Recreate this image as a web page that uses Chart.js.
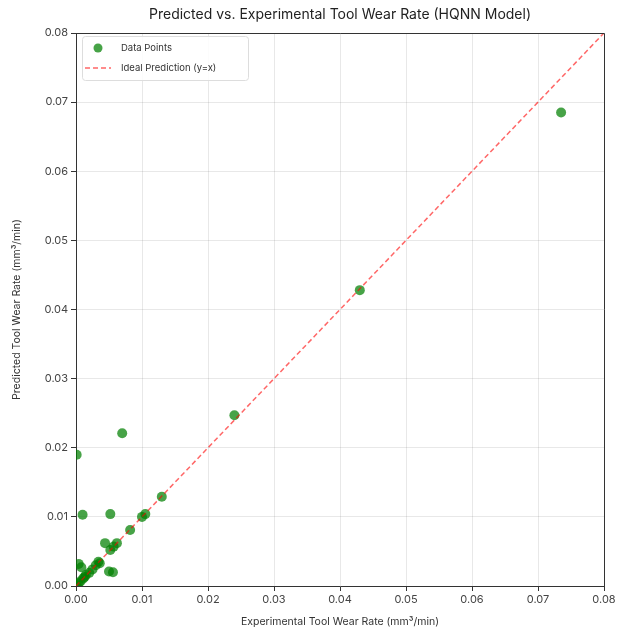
<!DOCTYPE html>
<html>
<head>
<meta charset="utf-8">
<script src="https://cdn.jsdelivr.net/npm/chart.js@4"></script>
<style>
html,body{margin:0;padding:0;background:#fff;}
#wrap{width:619px;height:634px;}
</style>
</head>
<body>
<div id="wrap"><canvas id="c" width="619" height="634"></canvas></div>
<script>
const titleText = "Predicted vs. Experimental Tool Wear Rate (HQNN Model)";
const xTitle = "Experimental Tool Wear Rate (mm\u00b3/min)";
const yTitle = "Predicted Tool Wear Rate (mm\u00b3/min)";
const experimental = [0.0735, 0.043, 0.024, 0.007, 0.0001, 0.013, 0.0105, 0.0100, 0.0010, 0.0052, 0.0082, 0.0044, 0.0057, 0.0052, 0.0062, 0.0050, 0.0056, 0.0004, 0.0008, 0.0034, 0.0036, 0.0025, 0.0020, 0.0015, 0.0011, 0.0007, 0.0004, 0.0001, 0.0030, 0.0013];
const predicted    = [0.0685, 0.0428, 0.0247, 0.0221, 0.0190, 0.0129, 0.0104, 0.0100, 0.0103, 0.0104, 0.0081, 0.0062, 0.0057, 0.0052, 0.0062, 0.0021, 0.0020, 0.0032, 0.0027, 0.0035, 0.0033, 0.0024, 0.0019, 0.0016, 0.0011, 0.0007, 0.0004, 0.0001, 0.0030, 0.0013];
const idealLine = [0, 0.08];
const tickValues = [0, 0.01, 0.02, 0.03, 0.04, 0.05, 0.06, 0.07, 0.08];

const FONT = "Inter, 'DejaVu Sans', sans-serif";
const pointColor = 'rgba(0,128,0,0.72)';
const lineColor = 'rgba(255,0,0,0.6)';

const scatterData = experimental.map((x, i) => ({x: x, y: predicted[i]}));
const lineData = idealLine.map(v => ({x: v, y: v}));

const extras = {
  id: 'extras',
  afterDraw(chart) {
    const {ctx, chartArea: a} = chart;
    ctx.save();
    // top & right spines
    ctx.strokeStyle = '#333';
    ctx.lineWidth = 1;
    ctx.beginPath();
    ctx.moveTo(a.left, a.top + 0.5);
    ctx.lineTo(a.right + 0.5, a.top + 0.5);
    ctx.lineTo(a.right + 0.5, a.bottom);
    ctx.stroke();
    // title
    ctx.fillStyle = '#222';
    ctx.font = "14px " + FONT;
    ctx.textAlign = 'center';
    ctx.textBaseline = 'middle';
    ctx.fillText(titleText, (a.left + a.right) / 2, 15);
    // legend
    const lx = a.left + 6, ly = a.top + 3, lw = 166, lh = 44;
    ctx.fillStyle = 'rgba(255,255,255,0.85)';
    ctx.strokeStyle = '#dddddd';
    ctx.lineWidth = 1;
    ctx.beginPath();
    ctx.roundRect(lx + 0.5, ly + 0.5, lw, lh, 3);
    ctx.fill();
    ctx.stroke();
    ctx.fillStyle = pointColor;
    ctx.beginPath();
    ctx.arc(lx + 16, ly + 12, 4.5, 0, Math.PI * 2);
    ctx.fill();
    ctx.strokeStyle = lineColor;
    ctx.lineWidth = 1.5;
    ctx.setLineDash([5, 3]);
    ctx.beginPath();
    ctx.moveTo(lx + 3, ly + 32);
    ctx.lineTo(lx + 29, ly + 32);
    ctx.stroke();
    ctx.setLineDash([]);
    ctx.fillStyle = '#333';
    ctx.font = "9.5px " + FONT;
    ctx.textAlign = 'left';
    ctx.fillText(chart.data.datasets[0].label, lx + 39, ly + 12);
    ctx.fillText(chart.data.datasets[1].label, lx + 39, ly + 32);
    ctx.restore();
  }
};

new Chart(document.getElementById('c'), {
  type: 'scatter',
  data: {
    datasets: [
      {
        label: 'Data Points',
        data: scatterData,
        backgroundColor: pointColor,
        borderColor: 'rgba(0,0,0,0)',
        borderWidth: 0,
        pointRadius: 5,
        pointHoverRadius: 5,
        clip: 0,
        order: 1
      },
      {
        label: 'Ideal Prediction (y=x)',
        type: 'line',
        data: lineData,
        borderColor: lineColor,
        borderWidth: 1.5,
        borderDash: [5, 3],
        pointRadius: 0,
        fill: false,
        clip: 0,
        order: 0
      }
    ]
  },
  options: {
    responsive: false,
    animation: false,
    devicePixelRatio: 1,
    layout: {padding: {top: 33, right: 15, left: 0, bottom: 0}},
    plugins: {
      legend: {display: false},
      title: {display: false},
      tooltip: {enabled: false}
    },
    scales: {
      x: {
        type: 'linear',
        min: 0, max: 0.08,
        afterBuildTicks: s => { s.ticks = tickValues.map(v => ({value: v})); },
        afterFit: s => { s.height = 48; },
        ticks: {
          color: '#444',
          font: {family: FONT, size: 11},
          padding: 2,
          maxRotation: 0,
          callback: v => v.toFixed(2)
        },
        grid: {color: 'rgba(0,0,0,0.09)', tickColor: '#333', tickLength: 5, drawTicks: true},
        border: {color: '#333', width: 1},
        title: {display: true, text: xTitle, color: '#333', font: {family: FONT, size: 10.5}, padding: {top: 4, bottom: 6}}
      },
      y: {
        type: 'linear',
        min: 0, max: 0.08,
        afterBuildTicks: s => { s.ticks = tickValues.map(v => ({value: v})); },
        afterFit: s => { s.width = 76; },
        ticks: {
          color: '#444',
          font: {family: FONT, size: 11},
          padding: 3,
          callback: v => v.toFixed(2)
        },
        grid: {color: 'rgba(0,0,0,0.09)', tickColor: '#333', tickLength: 5, drawTicks: true},
        border: {color: '#333', width: 1},
        title: {display: true, text: yTitle, color: '#333', font: {family: FONT, size: 10.5}, padding: {top: 11, bottom: 4}}
      }
    }
  },
  plugins: [extras]
});
</script>
</body>
</html>
